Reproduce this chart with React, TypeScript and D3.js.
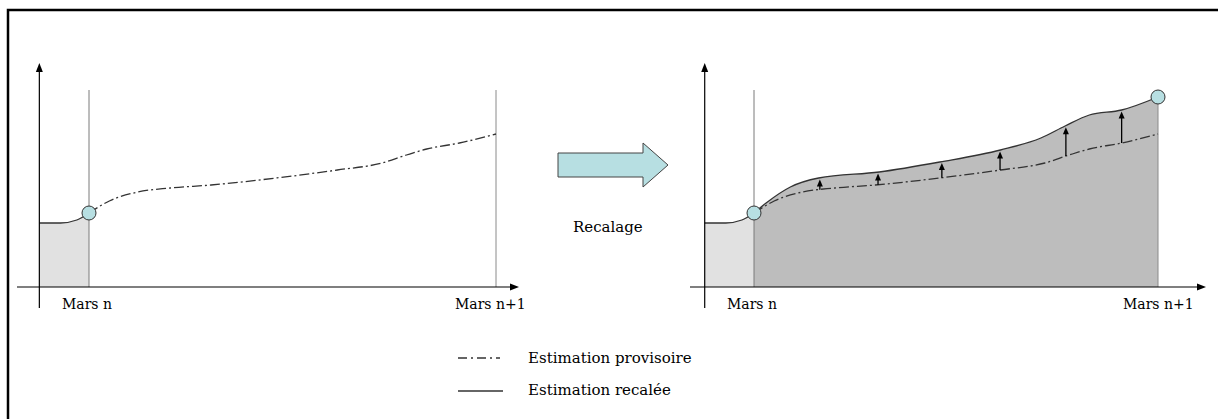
import React from "react";
import * as d3 from "d3";

// Abscissa: 0 = "Mars n", 100 = "Mars n+1"; ordinate: height above the axis
const T_PRE = [-12.2, -7, -3, 0];
const H_PRE = [64, 64, 67, 74];

const T_PROV = [0, 5, 12, 20, 30, 46, 61, 72, 78, 83, 91, 100];
const H_PROV = [74, 86, 95, 99, 102, 109, 117, 124, 132, 138, 144, 153];

const T_REC = [0, 3, 9, 16, 31, 46, 61, 71, 77, 83, 91, 100];
const H_REC = [74, 84, 100, 109, 115, 125, 137, 149, 161, 172, 177, 190];

const T_ARROWS = [16.3, 30.7, 46.5, 60.9, 77.2, 91];

const TICK_LABELS = ["Mars n", "Mars n+1"];
const LEGEND_LABELS = ["Estimation provisoire", "Estimation recalée"];
const ARROW_LABEL = "Recalage";

const CYAN = "#b7dfe2";
const LIGHT = "#e1e1e1";
const DARK = "#bdbdbd";
const DASH = "10,3,2,3";
const FONT = "'DejaVu Serif', serif";

const yScale = d3.scaleLinear().domain([0, 200]).range([287, 87]);

type P = { t: number; h: number };
const zip = (ts: number[], hs: number[]): P[] => ts.map((t, i) => ({ t, h: hs[i] }));
const pre = zip(T_PRE, H_PRE);
const prov = zip(T_PROV, H_PROV);
const rec = zip(T_REC, H_REC);
const provAt = d3.scaleLinear().domain(T_PROV).range(H_PROV);
const recAt = d3.scaleLinear().domain(T_REC).range(H_REC);

function Panel({ x0, x1, axisStart, axisEnd, recale, labelOffsets }: any) {
  const x = d3.scaleLinear().domain([0, 100]).range([x0, x1]);
  const line = d3
    .line<P>()
    .x((d) => x(d.t))
    .y((d) => yScale(d.h))
    .curve(d3.curveMonotoneX);
  const area = d3
    .area<P>()
    .x((d) => x(d.t))
    .y0(yScale(0))
    .y1((d) => yScale(d.h))
    .curve(d3.curveMonotoneX);
  const yAxisX = x(T_PRE[0]);
  const y0 = yScale(0);
  const vTop = 90;
  return (
    <g>
      {/* pre-period fill */}
      <path d={area(pre) || ""} fill={LIGHT} />
      {recale && <path d={area(rec) || ""} fill={DARK} />}
      {/* vertical reference lines */}
      <line x1={x(0)} x2={x(0)} y1={vTop} y2={y0} stroke="#7a7a7a" strokeWidth={1} />
      <line
        x1={x(100)}
        x2={x(100)}
        y1={recale ? yScale(H_REC[H_REC.length - 1]) : vTop}
        y2={y0}
        stroke="#8a8a8a"
        strokeWidth={1}
      />
      {/* curves */}
      <path d={line(pre) || ""} fill="none" stroke="#333" strokeWidth={1.3} />
      <path d={line(prov) || ""} fill="none" stroke="#333" strokeWidth={1.3} strokeDasharray={DASH} />
      {recale && <path d={line(rec) || ""} fill="none" stroke="#333" strokeWidth={1.3} />}
      {recale &&
        T_ARROWS.map((t, i) => {
          const xb = x(t);
          const yb = yScale(provAt(t));
          const yt = yScale(recAt(t)) + 1.5;
          return (
            <g key={i}>
              <line x1={xb} x2={xb} y1={yb} y2={yt + 5} stroke="#000" strokeWidth={1.3} />
              <path d={`M${xb},${yt} L${xb - 3},${yt + 7} L${xb + 3},${yt + 7} Z`} fill="#000" />
            </g>
          );
        })}
      {/* axes */}
      <line x1={axisStart} x2={axisEnd - 6} y1={y0} y2={y0} stroke="#000" strokeWidth={1.2} />
      <path d={`M${axisEnd},${y0} L${axisEnd - 9},${y0 - 3.5} L${axisEnd - 9},${y0 + 3.5} Z`} fill="#000" />
      <line x1={yAxisX} x2={yAxisX} y1={308} y2={68} stroke="#000" strokeWidth={1.2} />
      <path d={`M${yAxisX},63 L${yAxisX - 3.5},72 L${yAxisX + 3.5},72 Z`} fill="#000" />
      {/* markers */}
      <circle cx={x(0)} cy={yScale(H_PROV[0])} r={7} fill={CYAN} stroke="#333" strokeWidth={1} />
      {recale && (
        <circle cx={x(100)} cy={yScale(H_REC[H_REC.length - 1])} r={7} fill={CYAN} stroke="#333" strokeWidth={1} />
      )}
      {/* labels */}
      <text x={x(0) + labelOffsets[0]} y={309} fontFamily={FONT} fontSize={14} fill="#000">
        {TICK_LABELS[0]}
      </text>
      <text x={x(100) + labelOffsets[1]} y={309} fontFamily={FONT} fontSize={14} fill="#000">
        {TICK_LABELS[1]}
      </text>
    </g>
  );
}

export default function App() {
  return (
    <svg
      width={1218}
      height={419}
      style={{ position: "absolute", left: 0, top: 0, background: "#fff" }}
    >
      <rect x={0} y={0} width={1218} height={419} fill="#fff" />
      <path d="M8,419 V10 H1218" fill="none" stroke="#000" strokeWidth={2.5} />
      <Panel x0={89} x1={496} axisStart={17} axisEnd={519} recale={false} labelOffsets={[-27, -41]} />
      <Panel x0={754} x1={1158} axisStart={690} axisEnd={1206} recale={true} labelOffsets={[-27, -35]} />
      {/* block arrow */}
      <path
        d="M558,153 H643 V143 L668,165 L643,187 V177 H558 Z"
        fill={CYAN}
        stroke="#444"
        strokeWidth={1}
      />
      <text x={573} y={232} fontFamily={FONT} fontSize={15} fill="#000">
        {ARROW_LABEL}
      </text>
      {/* legend */}
      <line x1={458} x2={500} y1={358} y2={358} stroke="#333" strokeWidth={1.3} strokeDasharray="9,4,2,4" />
      <line x1={458} x2={503} y1={391} y2={391} stroke="#333" strokeWidth={1.3} />
      <text x={528} y={363} fontFamily={FONT} fontSize={15} fill="#000">
        {LEGEND_LABELS[0]}
      </text>
      <text x={528} y={395} fontFamily={FONT} fontSize={15} fill="#000">
        {LEGEND_LABELS[1]}
      </text>
    </svg>
  );
}
